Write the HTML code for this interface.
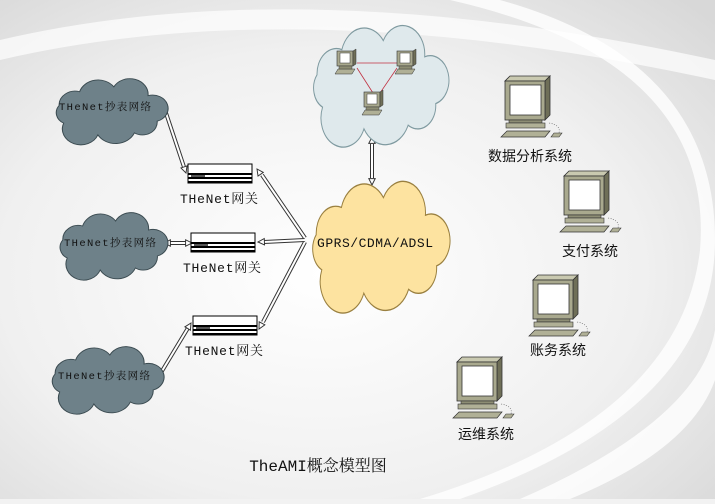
<!DOCTYPE html>
<html><head><meta charset="utf-8"><style>
html,body{margin:0;padding:0;}
body{width:715px;height:499px;overflow:hidden;background:#f2f2f2;}
</style></head><body>
<svg width="715" height="499" viewBox="0 0 715 499" xmlns="http://www.w3.org/2000/svg" font-family="Liberation Mono, Noto Sans CJK SC, monospace">
<defs>
<radialGradient id="bg" cx="0.45" cy="0.55" r="0.75">
<stop offset="0" stop-color="#ffffff"/><stop offset="0.6" stop-color="#f0f0f0"/><stop offset="1" stop-color="#d8d8d8"/>
</radialGradient>
<marker id="ah" viewBox="0 0 10 10" refX="9" refY="5" markerWidth="8" markerHeight="8" markerUnits="userSpaceOnUse" orient="auto-start-reverse">
<path d="M1,1 L9,5 L1,9 Z" fill="#fff" stroke="#333" stroke-width="1.2"/>
</marker>
<path id="cl" d="M12,44 A12,12 0 0,1 8,26 A14,14 0 0,1 26,12 A17,17 0 0,1 56,7 A16,16 0 0,1 86,16 A13,13 0 0,1 94,42 A13,13 0 0,1 74,54 A18,18 0 0,1 42,56 A14,14 0 0,1 12,44 Z"/>
<g id="pc">
<path d="M2,2 L42,2 L47,-3 L7,-3 Z" fill="#c9c9b0" stroke="#333" stroke-width="0.8"/>
<path d="M42,2 L47,-3 L47,36 L42,41 Z" fill="#6f6f58" stroke="#333" stroke-width="0.8"/>
<rect x="2" y="2" width="40" height="39" fill="#a9a98e" stroke="#333" stroke-width="0.8"/>
<rect x="7" y="6" width="31" height="30" fill="#fff" stroke="#333" stroke-width="0.8"/>
<rect x="6" y="41" width="33" height="3" fill="#8d8d74" stroke="#333" stroke-width="0.6"/>
<rect x="3" y="44" width="39" height="5" fill="#b0b096" stroke="#333" stroke-width="0.6"/>
<path d="M-2,58 L42,58 L47,52 L4,52 Z" fill="#b0b096" stroke="#333" stroke-width="0.7"/>
<path d="M48,58 L56,58 L59,54 L51,54 Z" fill="#b0b096" stroke="#333" stroke-width="0.6"/>
<path d="M46,44 Q58,46 56,54" fill="none" stroke="#555" stroke-width="0.6" stroke-dasharray="1,1.5"/>
</g>
<g id="spc">
<rect x="0" y="0" width="16" height="15" fill="#a9a98e" stroke="#333" stroke-width="0.6"/>
<path d="M16,0 L19,-2 L19,13 L16,15Z" fill="#6f6f58" stroke="#333" stroke-width="0.5"/>
<rect x="3" y="2" width="10" height="10" fill="#fff" stroke="#333" stroke-width="0.5"/>
<path d="M-2,23 L15,23 L18,18 L1,18 Z" fill="#b0b096" stroke="#333" stroke-width="0.5"/>
<rect x="2" y="15" width="13" height="3" fill="#8d8d74" stroke="#333" stroke-width="0.4"/>
</g>
<g id="gw">
<rect x="0" y="0" width="64" height="19" fill="#fff" stroke="#000" stroke-width="1"/>
<rect x="0" y="9" width="64" height="2" fill="#000"/>
<rect x="0" y="13" width="64" height="2" fill="#000"/>
<rect x="0" y="17" width="64" height="2" fill="#000"/>
<rect x="3" y="11" width="14" height="2" fill="#555"/>
</g>
</defs>
<rect width="715" height="499" fill="url(#bg)"/>
<path d="M0,60 Q300,-10 715,80 L715,60 Q300,-30 0,40Z" fill="#ffffff" opacity="0.7"/>
<path d="M450,0 Q715,60 700,250 Q680,420 420,499 L460,499 Q715,410 715,240 Q715,60 500,0Z" fill="#ffffff" opacity="0.8"/>
<path d="M520,499 Q700,420 715,330 L715,380 Q690,450 570,499Z" fill="#ffffff" opacity="0.8"/>

<!-- connectors -->
<g fill="none">
<g stroke="#333" stroke-width="4">
<line x1="163" y1="104" x2="184" y2="167"/>
<line x1="170" y1="243" x2="186" y2="243"/>
<line x1="159" y1="376" x2="188" y2="328"/>
<line x1="262" y1="175" x2="305" y2="238"/>
<line x1="264" y1="242" x2="305" y2="240"/>
<line x1="263" y1="322" x2="305" y2="242"/>
<line x1="372" y1="144" x2="372" y2="178"/>
</g>
<g stroke="#fff" stroke-width="2">
<line x1="163" y1="104" x2="184" y2="167"/>
<line x1="170" y1="243" x2="186" y2="243"/>
<line x1="159" y1="376" x2="188" y2="328"/>
<line x1="262" y1="175" x2="305" y2="238"/>
<line x1="264" y1="242" x2="305" y2="240"/>
<line x1="263" y1="322" x2="305" y2="242"/>
<line x1="372" y1="144" x2="372" y2="178"/>
</g>
<g stroke="none" stroke-width="1">
<line x1="161" y1="98" x2="186" y2="173" marker-start="url(#ah)" marker-end="url(#ah)" stroke="none"/>
<line x1="164" y1="243" x2="192" y2="243" marker-start="url(#ah)" marker-end="url(#ah)"/>
<line x1="156" y1="381" x2="191" y2="323" marker-start="url(#ah)" marker-end="url(#ah)"/>
<line x1="257" y1="169" x2="305" y2="238" marker-start="url(#ah)"/>
<line x1="258" y1="242" x2="305" y2="240" marker-start="url(#ah)"/>
<line x1="259" y1="329" x2="305" y2="242" marker-start="url(#ah)"/>
<line x1="372" y1="137" x2="372" y2="185" marker-start="url(#ah)" marker-end="url(#ah)"/>
</g>
</g>

<!-- clouds -->
<use href="#cl" transform="translate(50,80) scale(1.14,0.98)" fill="#6e8189" stroke="#3a4a50" stroke-width="0.9"/>
<use href="#cl" transform="translate(54,214) scale(1.1,1.0)" fill="#6e8189" stroke="#3a4a50" stroke-width="0.9"/>
<use href="#cl" transform="translate(46,348) scale(1.14,1.0)" fill="#6e8189" stroke="#3a4a50" stroke-width="0.9"/>
<use href="#cl" transform="translate(306,28) scale(1.38,1.8)" fill="#dfe9ec" stroke="#7f9aa0" stroke-width="0.7"/>
<use href="#cl" transform="translate(305,184) scale(1.4,1.95)" fill="#fde3a0" stroke="#9a8040" stroke-width="0.7"/>

<g font-size="10.5" fill="#111" font-family="Liberation Mono, Noto Serif CJK SC, monospace">
<text x="105" y="110" text-anchor="middle" textLength="92">THeNet抄表网络</text>
<text x="110" y="246" text-anchor="middle" textLength="92">THeNet抄表网络</text>
<text x="104" y="379" text-anchor="middle" textLength="92">THeNet抄表网络</text>
</g>
<text x="375" y="247" text-anchor="middle" font-size="13" fill="#111" textLength="116" font-family="Liberation Mono, monospace">GPRS/CDMA/ADSL</text>

<!-- small network -->
<g stroke="#c03040" stroke-width="0.8"><line x1="357" y1="63" x2="397" y2="63"/><line x1="357" y1="68" x2="373" y2="93"/><line x1="397" y1="68" x2="380" y2="93"/></g>
<use href="#spc" transform="translate(337,51)"/>
<use href="#spc" transform="translate(397,51)"/>
<use href="#spc" transform="translate(364,92)"/>

<!-- gateways -->
<use href="#gw" transform="translate(188,164)"/>
<use href="#gw" transform="translate(191,233)"/>
<use href="#gw" transform="translate(193,316)"/>
<g font-size="13" fill="#111" font-family="Liberation Mono, Noto Serif CJK SC, monospace">
<text x="180" y="203" textLength="78">THeNet网关</text>
<text x="183" y="272" textLength="78">THeNet网关</text>
<text x="185" y="355" textLength="78">THeNet网关</text>
</g>

<!-- computers -->
<use href="#pc" transform="translate(503,79)"/>
<use href="#pc" transform="translate(562,174)"/>
<use href="#pc" transform="translate(531,278)"/>
<use href="#pc" transform="translate(455,360)"/>
<g font-size="14" fill="#111" font-family="Noto Sans CJK SC, sans-serif">
<text x="530" y="161" text-anchor="middle">数据分析系统</text>
<text x="590" y="256" text-anchor="middle">支付系统</text>
<text x="558" y="355" text-anchor="middle">账务系统</text>
<text x="486" y="439" text-anchor="middle">运维系统</text>
</g>
<text x="318" y="471" text-anchor="middle" font-size="16" fill="#111" font-family="Liberation Mono, Noto Serif CJK SC, monospace">TheAMI概念模型图</text>
</svg>
</body></html>
